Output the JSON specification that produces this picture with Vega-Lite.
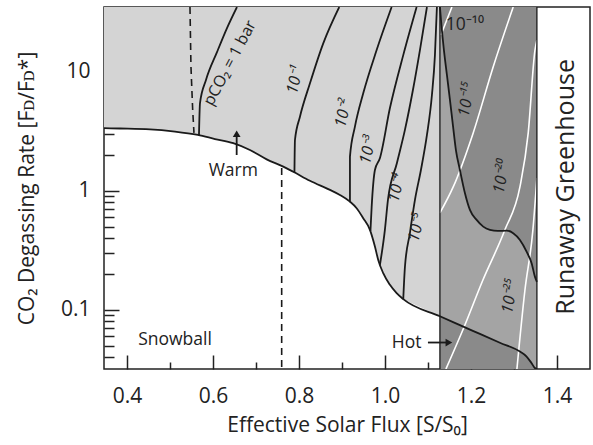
{
  "$schema": "https://vega.github.io/schema/vega-lite/v6.json",
  "width": 486,
  "height": 362,
  "autosize": {"type": "none"},
  "padding": {"left": 104, "top": 7, "right": 3, "bottom": 76},
  "background": "white",
  "config": {
    "view": {"stroke": "#222", "strokeWidth": 1.5},
    "axis": {"domain": false, "grid": false, "labelFont": "Open Sans", "labelFontSize": 21, "labelColor": "#222", "titleFont": "Open Sans", "titleFontSize": 21, "titleFontWeight": "normal", "titleColor": "#222", "tickColor": "#222", "tickWidth": 1.5}
  },
  "resolve": {"axis": {"x": "independent", "y": "independent"}},
  "datasets": {
    "boundary": [
      {"x": 0.3465, "y": 3.34}, {"x": 0.3837, "y": 3.32}, {"x": 0.4535, "y": 3.27}, {"x": 0.5116, "y": 3.13},
      {"x": 0.565, "y": 2.93}, {"x": 0.6047, "y": 2.71}, {"x": 0.6472, "y": 2.5}, {"x": 0.686, "y": 2.19},
      {"x": 0.7249, "y": 1.83}, {"x": 0.7635, "y": 1.59}, {"x": 0.7867, "y": 1.44}, {"x": 0.8256, "y": 1.21},
      {"x": 0.8721, "y": 1.014}, {"x": 0.8953, "y": 0.92}, {"x": 0.9186, "y": 0.809}, {"x": 0.9342, "y": 0.712},
      {"x": 0.9495, "y": 0.587}, {"x": 0.9651, "y": 0.469}, {"x": 0.9767, "y": 0.34}, {"x": 0.9844, "y": 0.262},
      {"x": 0.996, "y": 0.203}, {"x": 1.0116, "y": 0.162}, {"x": 1.0272, "y": 0.138}, {"x": 1.0426, "y": 0.123},
      {"x": 1.1279, "y": 0.0883}, {"x": 1.1744, "y": 0.0744}, {"x": 1.2209, "y": 0.0628}, {"x": 1.2674, "y": 0.053},
      {"x": 1.314, "y": 0.0447}, {"x": 1.3295, "y": 0.0406}, {"x": 1.3412, "y": 0.0357}, {"x": 1.3488, "y": 0.0325},
      {"x": 1.3535, "y": 0.0319}
    ],
    "curve10": [
      {"x": 1.1279, "y": 34.7}, {"x": 1.1314, "y": 24.5}, {"x": 1.1372, "y": 15.1}, {"x": 1.1442, "y": 9.33},
      {"x": 1.1512, "y": 5.76}, {"x": 1.1581, "y": 3.55}, {"x": 1.1651, "y": 2.19}, {"x": 1.1744, "y": 1.49},
      {"x": 1.186, "y": 0.956}, {"x": 1.1977, "y": 0.689}, {"x": 1.2133, "y": 0.568}, {"x": 1.2286, "y": 0.499},
      {"x": 1.2442, "y": 0.469}, {"x": 1.2628, "y": 0.459}, {"x": 1.283, "y": 0.462}, {"x": 1.2984, "y": 0.44},
      {"x": 1.314, "y": 0.386}, {"x": 1.3295, "y": 0.308}, {"x": 1.3412, "y": 0.246}, {"x": 1.3488, "y": 0.19},
      {"x": 1.3535, "y": 0.172}
    ],
    "edges": [
      {"x": 1.1279, "y": 0.0319, "top": 34.7},
      {"x": 1.3535, "y": 0.0319, "top": 34.7}
    ],
    "contours": [
      {"name": "p1", "i": 0, "x": 0.5674, "y": 2.9}, {"name": "p1", "i": 1, "x": 0.5698, "y": 5.43},
      {"name": "p1", "i": 2, "x": 0.5837, "y": 8.47}, {"name": "p1", "i": 3, "x": 0.6093, "y": 14.5},
      {"name": "p1", "i": 4, "x": 0.6326, "y": 23.1}, {"name": "p1", "i": 5, "x": 0.6558, "y": 34.7},
      {"name": "m1", "i": 0, "x": 0.7895, "y": 1.42}, {"name": "m1", "i": 1, "x": 0.7907, "y": 2.66},
      {"name": "m1", "i": 2, "x": 0.8023, "y": 4.17}, {"name": "m1", "i": 3, "x": 0.8256, "y": 7.95},
      {"name": "m1", "i": 4, "x": 0.8565, "y": 17.2}, {"name": "m1", "i": 5, "x": 0.8937, "y": 34.7},
      {"name": "m2", "i": 0, "x": 0.9186, "y": 0.8}, {"name": "m2", "i": 1, "x": 0.9186, "y": 1.93},
      {"name": "m2", "i": 2, "x": 0.9302, "y": 3.44}, {"name": "m2", "i": 3, "x": 0.9495, "y": 6.55},
      {"name": "m2", "i": 4, "x": 0.9807, "y": 15.1}, {"name": "m2", "i": 5, "x": 1.0156, "y": 34.7},
      {"name": "m3", "i": 0, "x": 0.9663, "y": 0.46}, {"name": "m3", "i": 1, "x": 0.9691, "y": 0.73},
      {"name": "m3", "i": 2, "x": 0.9767, "y": 1.49}, {"name": "m3", "i": 3, "x": 0.9884, "y": 1.88},
      {"name": "m3", "i": 4, "x": 1.0116, "y": 4.93}, {"name": "m3", "i": 5, "x": 1.0426, "y": 13.7},
      {"name": "m3", "i": 6, "x": 1.0737, "y": 34.7},
      {"name": "m4", "i": 0, "x": 0.9884, "y": 0.239}, {"name": "m4", "i": 1, "x": 0.9999, "y": 0.469},
      {"name": "m4", "i": 2, "x": 1.007, "y": 0.836}, {"name": "m4", "i": 3, "x": 1.0279, "y": 1.706},
      {"name": "m4", "i": 4, "x": 1.0465, "y": 3.23}, {"name": "m4", "i": 5, "x": 1.0651, "y": 6.98},
      {"name": "m4", "i": 6, "x": 1.0814, "y": 15.1}, {"name": "m4", "i": 7, "x": 1.0977, "y": 34.7},
      {"name": "m5", "i": 0, "x": 1.0426, "y": 0.123}, {"name": "m5", "i": 1, "x": 1.0465, "y": 0.229},
      {"name": "m5", "i": 2, "x": 1.0581, "y": 0.441}, {"name": "m5", "i": 3, "x": 1.0698, "y": 0.836},
      {"name": "m5", "i": 4, "x": 1.0837, "y": 1.49}, {"name": "m5", "i": 5, "x": 1.0977, "y": 2.93},
      {"name": "m5", "i": 6, "x": 1.1093, "y": 6.34}, {"name": "m5", "i": 7, "x": 1.1163, "y": 13.7},
      {"name": "m5", "i": 8, "x": 1.1209, "y": 34.7}
    ],
    "white": [
      {"name": "w1", "i": 0, "x": 1.1302, "y": 20.2}, {"name": "w1", "i": 1, "x": 1.1558, "y": 34.7},
      {"name": "w2", "i": 0, "x": 1.1279, "y": 0.65}, {"name": "w2", "i": 1, "x": 1.1588, "y": 1.074},
      {"name": "w2", "i": 2, "x": 1.2053, "y": 3.05}, {"name": "w2", "i": 3, "x": 1.2519, "y": 10.95},
      {"name": "w2", "i": 4, "x": 1.2984, "y": 34.7},
      {"name": "w3", "i": 0, "x": 1.1419, "y": 0.0319}, {"name": "w3", "i": 1, "x": 1.1814, "y": 0.068},
      {"name": "w3", "i": 2, "x": 1.2279, "y": 0.178}, {"name": "w3", "i": 3, "x": 1.2791, "y": 0.469},
      {"name": "w3", "i": 4, "x": 1.314, "y": 1.074}, {"name": "w3", "i": 5, "x": 1.3333, "y": 3.05},
      {"name": "w3", "i": 6, "x": 1.349, "y": 15.1}, {"name": "w3", "i": 7, "x": 1.3535, "y": 18.3},
      {"name": "w4", "i": 0, "x": 1.307, "y": 0.0319}, {"name": "w4", "i": 1, "x": 1.3256, "y": 0.146},
      {"name": "w4", "i": 2, "x": 1.3442, "y": 0.469}, {"name": "w4", "i": 3, "x": 1.3535, "y": 1.277}
    ],
    "dashed": [
      {"name": "d1", "i": 0, "x": 0.5465, "y": 34.7}, {"name": "d1", "i": 1, "x": 0.5488, "y": 10.9},
      {"name": "d1", "i": 2, "x": 0.5528, "y": 4.75}, {"name": "d1", "i": 3, "x": 0.5558, "y": 3.05},
      {"name": "d2", "i": 0, "x": 0.7598, "y": 1.55}, {"name": "d2", "i": 1, "x": 0.7598, "y": 0.0319}
    ],
    "labelsH": [
      {"x": 0.6472, "y": 1.47, "t": "Warm"},
      {"x": 0.5116, "y": 0.056, "t": "Snowball"},
      {"x": 1.0505, "y": 0.0529, "t": "Hot"},
      {"x": 1.186, "y": 24.5, "t": "10⁻¹⁰"}
    ],
    "labelsC": [
      {"x": 0.7907, "y": 8.47, "t": "10⁻¹"},
      {"x": 0.903, "y": 4.45, "t": "10⁻²"},
      {"x": 0.9605, "y": 2.19, "t": "10⁻³"},
      {"x": 1.0272, "y": 1.05, "t": "10⁻⁴"},
      {"x": 1.0737, "y": 0.487, "t": "10⁻⁵"}
    ],
    "labelsB": [
      {"x": 1.19, "y": 5.76, "t": "10⁻¹⁵"},
      {"x": 1.2714, "y": 1.31, "t": "10⁻²⁰"},
      {"x": 1.2907, "y": 0.129, "t": "10⁻²⁵"}
    ]
  },
  "encoding": {
    "x": {"field": "x", "type": "quantitative", "scale": {"domain": [0.3465, 1.477], "nice": false, "zero": false}, "axis": null},
    "y": {"field": "y", "type": "quantitative", "scale": {"type": "log", "domain": [0.0319, 34.7], "nice": false}, "axis": null}
  },
  "layer": [
    {"data": {"name": "boundary"}, "transform": [{"filter": "datum.x <= 1.13"}],
      "mark": {"type": "area", "color": "#d4d4d4", "orient": "vertical"},
      "encoding": {
        "x": {"field": "x", "type": "quantitative", "scale": {"domain": [0.3465, 1.477], "nice": false, "zero": false},
          "axis": {"orient": "bottom", "title": "Effective Solar Flux [S/S₀]", "values": [0.4, 0.6, 0.8, 1.0, 1.2, 1.4], "format": ".1f",
            "tickSize": -14, "labelPadding": 30, "titlePadding": 8}},
        "y": {"field": "y", "type": "quantitative", "scale": {"type": "log", "domain": [0.0319, 34.7], "nice": false},
          "axis": {"orient": "left", "title": "CO₂ Degassing Rate [Fᴅ/Fᴅ*]", "values": [0.1, 1, 10], "format": "~g",
            "tickSize": -15, "labelPadding": 29, "titlePadding": 23}},
        "y2": {"datum": 34.7}}},
    {"data": {"name": "edges"}, "mark": {"type": "area", "color": "#a4a4a4", "orient": "vertical"},
      "encoding": {"y2": {"field": "top"}}},
    {"data": {"name": "curve10"}, "mark": {"type": "area", "color": "#8a8a8a", "orient": "vertical", "interpolate": "monotone"},
      "encoding": {"y2": {"datum": 34.7}}},
    {"data": {"name": "boundary"}, "transform": [{"filter": "datum.x >= 1.127"}],
      "mark": {"type": "area", "color": "#8a8a8a", "orient": "vertical", "interpolate": "monotone"},
      "encoding": {"y2": {"datum": 0.0319}}},
    {"data": {"name": "white"}, "mark": {"type": "line", "color": "white", "strokeWidth": 1.6, "interpolate": "monotone", "clip": true},
      "encoding": {"detail": {"field": "name"}, "order": {"field": "i"}}},
    {"data": {"name": "contours"}, "mark": {"type": "line", "color": "#1a1a1a", "strokeWidth": 1.8, "interpolate": "monotone", "clip": true},
      "encoding": {"detail": {"field": "name"}, "order": {"field": "i"}}},
    {"data": {"name": "curve10"}, "mark": {"type": "line", "color": "#1a1a1a", "strokeWidth": 1.8, "interpolate": "monotone", "clip": true},
      "encoding": {}},
    {"data": {"name": "edges"}, "mark": {"type": "rule", "color": "#1a1a1a", "strokeWidth": 1.3},
      "encoding": {"y2": {"field": "top"}}},
    {"data": {"name": "boundary"}, "mark": {"type": "line", "color": "#1a1a1a", "strokeWidth": 1.8, "interpolate": "monotone", "clip": true},
      "encoding": {
        "x": {"field": "x", "type": "quantitative", "scale": {"domain": [0.3465, 1.477], "nice": false, "zero": false},
          "axis": {"orient": "bottom", "title": null, "values": [0.5, 0.7, 0.9, 1.1, 1.3], "labels": false, "tickSize": -7}},
        "y": {"field": "y", "type": "quantitative", "scale": {"type": "log", "domain": [0.0319, 34.7], "nice": false},
          "axis": {"orient": "left", "title": null, "values": [0.04, 0.05, 0.06, 0.07, 0.08, 0.09, 0.2, 0.3, 0.4, 0.5, 0.6, 0.7, 0.8, 0.9, 2, 3, 4, 5, 6, 7, 8, 9, 20, 30], "labels": false, "tickSize": -10}}}},
    {"data": {"name": "dashed"}, "mark": {"type": "line", "color": "#1a1a1a", "strokeWidth": 1.6, "strokeDash": [7, 5], "clip": true},
      "encoding": {"detail": {"field": "name"}, "order": {"field": "i"}}},
    {"data": {"name": "labelsH"}, "mark": {"type": "text", "font": "Open Sans", "fontSize": 17.5, "color": "#222"},
      "encoding": {"text": {"field": "t"}}},
    {"data": {"values": [{"x": 0.6395, "y": 11.76, "t": "pCO₂ = 1 bar"}]},
      "mark": {"type": "text", "font": "Open Sans", "fontSize": 16, "color": "#222", "angle": -62},
      "encoding": {"text": {"field": "t"}}},
    {"data": {"name": "labelsC"}, "mark": {"type": "text", "font": "Open Sans", "fontSize": 16, "fontStyle": "italic", "color": "#222", "angle": -77},
      "encoding": {"text": {"field": "t"}}},
    {"data": {"name": "labelsB"}, "mark": {"type": "text", "font": "Open Sans", "fontSize": 16, "fontStyle": "italic", "color": "#222", "angle": -80},
      "encoding": {"text": {"field": "t"}}},
    {"data": {"values": [{"x": 1.421, "y": 1.074, "t": "Runaway Greenhouse"}]},
      "mark": {"type": "text", "font": "Open Sans", "fontSize": 25, "color": "#222", "angle": -90},
      "encoding": {"text": {"field": "t"}}},
    {"data": {"values": [{"x": 0.6551, "y": 1.99, "y2": 2.9}]},
      "mark": {"type": "rule", "color": "#1a1a1a", "strokeWidth": 1.8}, "encoding": {"y2": {"field": "y2"}}},
    {"data": {"values": [{"x": 0.6551, "y": 3.0}]},
      "mark": {"type": "point", "shape": "triangle-up", "filled": true, "color": "#1a1a1a", "size": 60, "opacity": 1}, "encoding": {}},
    {"data": {"values": [{"x": 1.1, "x2": 1.146, "y": 0.0532}]},
      "mark": {"type": "rule", "color": "#1a1a1a", "strokeWidth": 1.8}, "encoding": {"x2": {"field": "x2"}}},
    {"data": {"values": [{"x": 1.1488, "y": 0.0532}]},
      "mark": {"type": "point", "shape": "triangle-right", "filled": true, "color": "#1a1a1a", "size": 60, "opacity": 1}, "encoding": {}}
  ]
}
